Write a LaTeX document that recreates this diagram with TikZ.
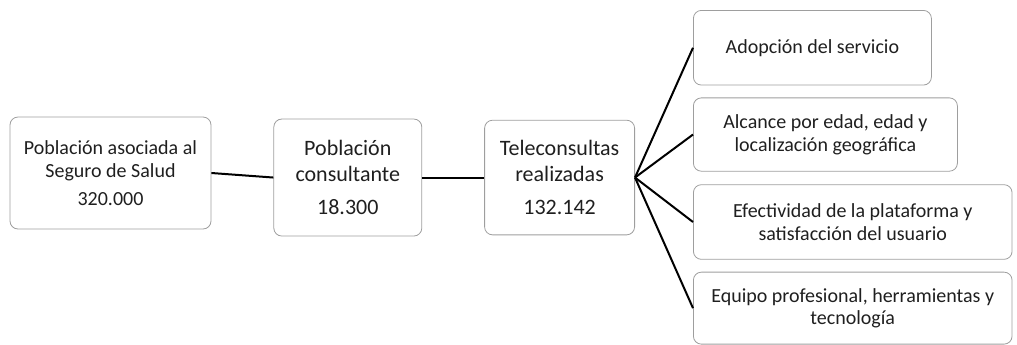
\documentclass[tikz,border=0pt]{standalone}
\usepackage{fontspec}
\setmainfont{Carlito}
\usetikzlibrary{positioning}

\begin{document}
\begin{tikzpicture}[
    x=0.75pt, y=-0.75pt,
    node distance=46.5pt,
    order/.style={
		rectangle,
		rounded corners=6pt,
		draw=black!38,
		line width=0.6pt,
		text=black!88,
		align=center,
		inner sep=2pt,
		font=\fontsize{15}{17}\selectfont
	},
	big/.style={
		order,
		font=\fontsize{16.5}{19}\selectfont
	},
	link/.style={
		draw=black,
		line width=1.5pt
	}
  ]
  \useasboundingbox (0,0) rectangle (1017,344);
    % We start by placing the blocks

  \node [order, minimum width=150.75pt, minimum height=84pt] (asociada) at (110.5,173)
 {Población asociada al\\Seguro de Salud\\[4pt]320.000};

  \node [big, right=of asociada, yshift=-3.4pt, minimum width=111pt, minimum height=87.75pt] (consultante)
 {Población\\consultante\\[6pt]18.300};

  \node [big, right=of consultante, minimum width=112.5pt, minimum height=86pt] (tele)
 {Teleconsultas\\realizadas\\[6pt]132.142};

 % the four items on the right
  \node [order, anchor=north west, minimum width=178.5pt, minimum height=56pt] (adop) at (693,10)
 {Adopción del servicio};

  \node [order, below=9pt of adop.south west, anchor=north west, minimum width=198pt, minimum height=55pt] (alcance)
 {Alcance por edad, edad y\\localización geográfica};

  \node [order, below=9.5pt of alcance.south west, anchor=north west, minimum width=239pt, minimum height=56pt] (efect)
 {Efectividad de la plataforma y\\satisfacción del usuario};

  \node [order, below=9pt of efect.south west, anchor=north west, minimum width=239pt, minimum height=54pt] (equipo)
 {Equipo profesional, herramientas y\\tecnología};

 \draw [link] (asociada.east) -- (consultante.west);
 \draw [link] (consultante.east) -- (tele.west);
 \foreach \n in {adop,alcance,efect,equipo}
   \draw [link] (tele.east) -- (\n.west);

\end{tikzpicture}
\end{document}
